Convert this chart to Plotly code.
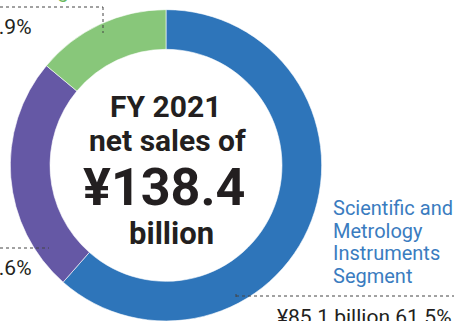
import plotly.graph_objects as go

W, H = 454, 321

# Net sales by segment, FY 2021 (billions of yen)
segments = ["Scientific and Metrology Instruments Segment",
            "Industrial Equipment Segment",
            "Medical Equipment Segment"]
sales = [85.1, 34.0, 19.3]
colors = ["#2E75BA", "#6558A5", "#88C77A"]
fiscal_year = "FY 2021"

total = round(sum(sales), 1)
shares = [v / total * 100 for v in sales]

FONT = "Roboto, sans-serif"
DARK = "#231F20"
BLUE_TXT = "#3A7CC0"


def px(x, y):
    """Pixel position -> paper coordinates."""
    return x / W, 1 - y / H


fig = go.Figure(go.Pie(
    labels=segments,
    values=sales,
    sort=False,
    direction="clockwise",
    rotation=0,
    hole=0.745,
    marker=dict(colors=colors, line=dict(color="white", width=0.6)),
    textinfo="none",
    hoverinfo="label+value+percent",
    domain=dict(x=[(166 - 155.7) / W, (166 + 155.7) / W], y=[0, 0.97]),
    showlegend=False,
))

ann = []


def text(s, x, y, size, color=DARK, xanchor="center", weight="normal"):
    ax, ay = px(x, y)
    ann.append(dict(text=s, x=ax, y=ay, xref="paper", yref="paper",
                    xanchor=xanchor, yanchor="middle", showarrow=False,
                    font=dict(family=FONT, size=size, color=color, weight=weight)))


# centre caption
text(fiscal_year, 165, 107, 30, weight="bold")
text("net sales of", 167, 140, 30, weight="bold")
text(f"¥{total}", 164, 188, 52, weight="bold")
text("billion", 171, 233, 31, weight="bold")

# blue segment label
for i, line in enumerate(["Scientific and", "Metrology", "Instruments", "Segment"]):
    text(line, 331, 208 + i * 22.5, 20, color=BLUE_TXT, xanchor="left")
text(f"¥{sales[0]} billion {shares[0]:.1f}%", 275, 317, 21, xanchor="left")

# left-hand labels running past the edge
text(f"¥{sales[2]} billion {shares[2]:.1f}%", 34, 27, 21, xanchor="right")
text(f"¥{sales[1]} billion {shares[1]:.1f}%", 34, 268, 21, xanchor="right")
text("Segment", 33, -9, 20, color="#6DB85E", xanchor="left")

# dotted leader lines
dots = dict(color="#444444", width=1, dash="dot")
shapes = []


def seg(x0, y0, x1, y1):
    a0, b0 = px(x0, y0)
    a1, b1 = px(x1, y1)
    shapes.append(dict(type="line", xref="paper", yref="paper",
                       x0=a0, y0=b0, x1=a1, y1=b1, line=dots))


seg(0, 7, 103, 7)
seg(103, 7, 103, 33)
seg(0, 248, 49, 248)
seg(236, 296, W, 296)
seg(236, 294, 236, 298)

fig.update_layout(
    width=W, height=H, autosize=False,
    margin=dict(l=0, r=0, t=0, b=0),
    paper_bgcolor="white", plot_bgcolor="white",
    annotations=ann, shapes=shapes,
)

fig.write_html("out.html")
